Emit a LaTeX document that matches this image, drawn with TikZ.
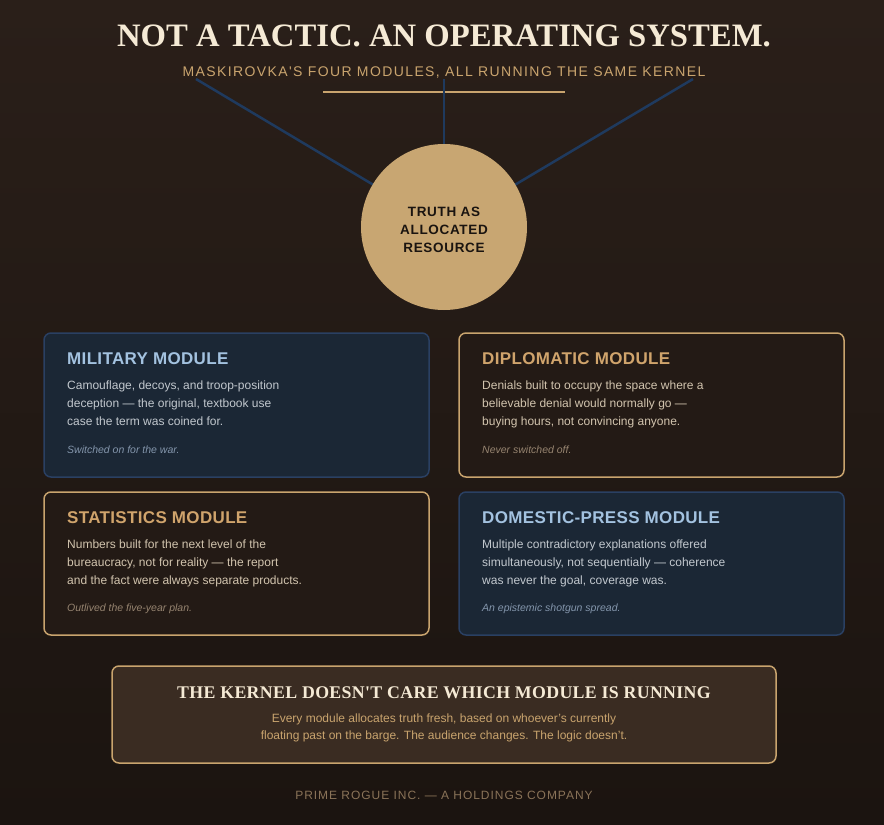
\documentclass[tikz,border=0pt]{standalone}
\usepackage{fontspec}
\setmainfont{Liberation Sans}
\newfontfamily\serifbold{Liberation Serif}
\newfontfamily\kernserif[LetterSpace=2]{Liberation Serif}
\newfontfamily\spacedsans[LetterSpace=10]{Liberation Sans}
\newfontfamily\footsans[LetterSpace=8]{Liberation Sans}
\newfontfamily\midsans[LetterSpace=5]{Liberation Sans}
\newfontfamily\titsans[LetterSpace=2]{Liberation Sans}
\definecolor{bgtop}{HTML}{2A1F19}
\definecolor{bgbot}{HTML}{1B1410}
\definecolor{cream}{HTML}{F5EAD5}
\definecolor{gold}{HTML}{C9A46E}
\definecolor{circfill}{HTML}{C8A672}
\definecolor{spoke}{HTML}{1F3A5E}
\definecolor{navyfill}{HTML}{1B2735}
\definecolor{navyedge}{HTML}{2A4063}
\definecolor{brownfill}{HTML}{231A15}
\definecolor{bluetitle}{HTML}{A3C2E0}
\definecolor{bluebody}{HTML}{C2C8CE}
\definecolor{bluenote}{HTML}{8496AC}
\definecolor{tantitle}{HTML}{D0A46C}
\definecolor{tanbody}{HTML}{D2C4AE}
\definecolor{tannote}{HTML}{968470}
\definecolor{kernfill}{HTML}{3A2C22}
\definecolor{footc}{HTML}{8A7358}
\definecolor{darktext}{HTML}{1A1410}
\tikzset{
  navybox/.style={draw=navyedge, line width=1.5pt, fill=navyfill, rounded corners=7pt},
  brownbox/.style={draw=gold, line width=1.5pt, fill=brownfill, rounded corners=7pt},
  modtitle/.style={anchor=base west, inner sep=0pt, font=\titsans\bfseries\fontsize{17}{20}\selectfont},
  modbody/.style={anchor=north west, inner sep=0pt, align=left, font=\fontsize{12}{18}\selectfont},
  modnote/.style={anchor=base west, inner sep=0pt, font=\itshape\fontsize{10.5}{13}\selectfont},
  spokeline/.style={draw=spoke, line width=2.5pt}
}
\begin{document}
\begin{tikzpicture}[x=1pt,y=-1pt]
\useasboundingbox (0,0) rectangle (884,825);
\shade[top color=bgtop, bottom color=bgbot] (0,0) rectangle (884,825);
% title
\node[text=cream, inner sep=0pt, anchor=base] (title) at (444,46) {\serifbold\bfseries\fontsize{32.7}{36}\selectfont NOT A TACTIC. AN OPERATING SYSTEM.};
\node[text=gold, inner sep=0pt, anchor=base] (subtitle) at (444,76) {\spacedsans\fontsize{14}{16}\selectfont MASKIROVKA'S FOUR MODULES, ALL RUNNING THE SAME KERNEL};
\draw[gold, line width=2pt] (323,92) -- (565,92);
% spokes
\coordinate (s1) at (196,79);
\coordinate (s2) at (444,79);
\coordinate (s3) at (693,79);
\coordinate (cc) at (444,227);
\draw[spokeline] (s1) -- (cc);
\draw[spokeline] (s2) -- (cc);
\draw[spokeline] (s3) -- (cc);
\node[circle, fill=circfill, minimum size=166pt, inner sep=0pt, text=darktext] (core) at (cc) {};
\node[inner sep=0pt, align=center, text=darktext,
  font=\midsans\bfseries\fontsize{13.5}{18}\selectfont] (coretext) at (444,230) {TRUTH AS\\ALLOCATED\\RESOURCE};
% military
\draw[navybox] (44,333) rectangle (429,477);
\node[modtitle, text=bluetitle] (milt) at (67,364) {MILITARY MODULE};
\node[modbody, text=bluebody] (milb) at (67,381) {Camouflage, decoys, and troop-position\\deception — the original, textbook use\\case the term was coined for.};
\node[modnote, text=bluenote] (miln) at (67,453) {Switched on for the war.};
% diplomatic
\draw[brownbox] (459,333) rectangle (844,477);
\node[modtitle, text=tantitle] (dipt) at (482,364) {DIPLOMATIC MODULE};
\node[modbody, text=tanbody] (dipb) at (482,381) {Denials built to occupy the space where a\\believable denial would normally go —\\buying hours, not convincing anyone.};
\node[modnote, text=tannote] (dipn) at (482,453) {Never switched off.};
% statistics
\draw[brownbox] (44,492) rectangle (429,635);
\node[modtitle, text=tantitle] (stat) at (67,523) {STATISTICS MODULE};
\node[modbody, text=tanbody] (stab) at (67,540) {Numbers built for the next level of the\\bureaucracy, not for reality — the report\\and the fact were always separate products.};
\node[modnote, text=tannote] (stan) at (67,611) {Outlived the five-year plan.};
% domestic press
\draw[navybox] (459,492) rectangle (844,635);
\node[modtitle, text=bluetitle] (domt) at (482,523) {DOMESTIC-PRESS MODULE};
\node[modbody, text=bluebody] (domb) at (482,540) {Multiple contradictory explanations offered\\simultaneously, not sequentially — coherence\\was never the goal, coverage was.};
\node[modnote, text=bluenote] (domn) at (482,611) {An epistemic shotgun spread.};
% kernel
\draw[draw=gold, line width=1.5pt, fill=kernfill, rounded corners=7pt] (112,666) rectangle (776,763);
\node[text=cream, inner sep=0pt, anchor=base] (kt) at (444,698) {\kernserif\bfseries\fontsize{17.8}{20}\selectfont THE KERNEL DOESN'T CARE WHICH MODULE IS RUNNING};
\node[text=gold, inner sep=0pt, anchor=north, align=center, font=\fontsize{12}{17.5}\selectfont] (kb) at (444,713.5) {Every module allocates truth fresh, based on whoever's currently\\floating past on the barge. The audience changes. The logic doesn't.};
% footer
\node[text=footc, inner sep=0pt, anchor=base] (foot) at (444,799) {\footsans\fontsize{12}{14}\selectfont PRIME ROGUE INC. — A HOLDINGS COMPANY};
\end{tikzpicture}
\end{document}
